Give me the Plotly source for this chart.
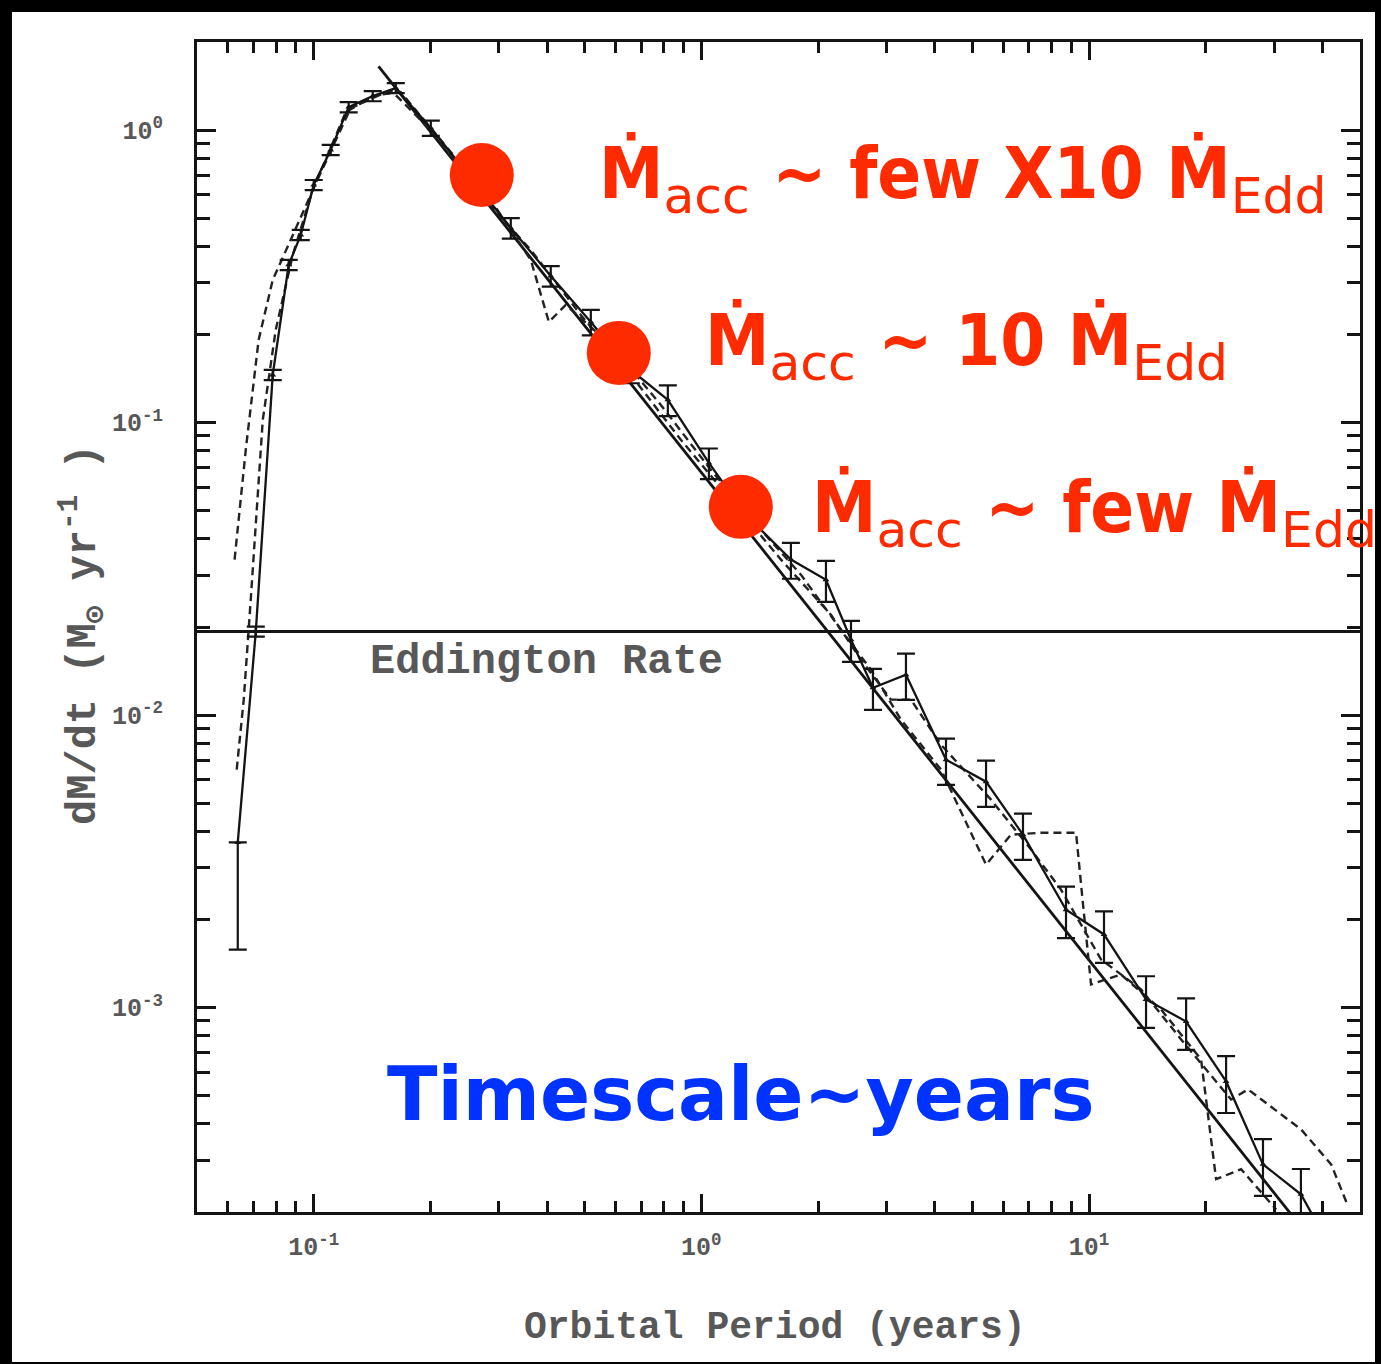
import math
import plotly.graph_objects as go

# ---------------- data ----------------
# straight power-law reference line
line_x = [0.147, 37.0]
line_y = [1.65, 1.64e-4]

# simulation curve with error bars (solid)
sim_x = [0.0637, 0.0709, 0.0784, 0.0862, 0.0926, 0.100, 0.1106, 0.1231, 0.142, 0.1628,
         0.2005, 0.2542, 0.3224, 0.4088, 0.5186, 0.6577, 0.8194, 1.0457, 1.302, 1.702,
         2.096, 2.432, 2.771, 3.371, 4.276, 5.424, 6.755, 8.722, 10.93, 14.03,
         17.8, 22.57, 28.1, 35.2, 41.0]
sim_y = [3.67e-3, 0.0193, 0.1455, 0.346, 0.438, 0.649, 0.855, 1.198, 1.307, 1.392,
         1.016, 0.685, 0.4627, 0.317, 0.2208, 0.1514, 0.1196, 0.0728, 0.0484, 0.034,
         0.029, 0.0181, 0.0124, 0.01374, 7.04e-3, 5.92e-3, 3.9e-3, 2.16e-3, 1.778e-3, 1.066e-3,
         8.96e-4, 5.59e-4, 2.91e-4, 2.3e-4, 1.6e-4]
sim_err_up = [0.0, 0.04, 0.04, 0.04, 0.04, 0.04, 0.04, 0.04, 0.04, 0.04,
              0.06, 0.06, 0.08, 0.08, 0.10, 0.10, 0.12, 0.12, 0.14, 0.14,
              0.16, 0.16, 0.16, 0.18, 0.18, 0.18, 0.18, 0.20, 0.20, 0.20,
              0.20, 0.22, 0.22, 0.22, 0.0]
sim_err_dn = [0.57, 0.04, 0.04, 0.04, 0.04, 0.04, 0.04, 0.04, 0.04, 0.04,
              0.06, 0.06, 0.08, 0.08, 0.10, 0.10, 0.12, 0.12, 0.14, 0.14,
              0.16, 0.16, 0.16, 0.18, 0.18, 0.18, 0.18, 0.20, 0.20, 0.20,
              0.20, 0.22, 0.22, 0.22, 0.0]

# dashed model curve A
dashA_x = [0.0625, 0.0668, 0.0721, 0.0784, 0.0872, 0.0982, 0.1210, 0.1445, 0.1677, 0.2127,
           0.2862, 0.3631, 0.4042, 0.4470, 0.5842, 0.7861, 1.058, 1.424, 1.806, 2.291,
           2.738, 3.272, 4.150, 5.424, 6.291, 7.517, 9.258, 9.650, 10.12, 12.09,
           15.34, 19.45, 21.27, 24.68, 30.39]
dashA_y = [0.0340, 0.0807, 0.1917, 0.3073, 0.4209, 0.5996, 1.152, 1.317, 1.348, 0.9245,
           0.5765, 0.3596, 0.2208, 0.2524, 0.1843, 0.1149, 0.0689, 0.0430, 0.0302, 0.01957,
           0.01429, 9.64e-3, 6.51e-3, 3.08e-3, 3.90e-3, 3.96e-3, 3.96e-3, 2.25e-3, 1.20e-3, 1.297e-3,
           9.85e-4, 6.65e-4, 2.59e-4, 2.80e-4, 2.04e-4]

# dashed model curve B
dashB_x = [0.0633, 0.0660, 0.0688, 0.0739, 0.0798, 0.0883, 0.0994, 0.1246, 0.158, 0.2004,
           0.2698, 0.3631, 0.4887, 0.6577, 0.8853, 1.1917, 1.604, 2.159, 2.580, 3.083,
           3.472, 4.150, 5.586, 7.085, 8.467, 10.74, 13.62, 17.28, 23.25, 25.72,
           35.25, 42.13, 46.6]
dashB_y = [6.51e-3, 0.01129, 0.0248, 0.1021, 0.2073, 0.374, 0.6237, 1.189, 1.370, 1.0,
           0.5996, 0.389, 0.2333, 0.1455, 0.0873, 0.0544, 0.0340, 0.02203, 0.01546, 0.01129,
           0.01129, 7.92e-3, 5.14e-3, 3.47e-3, 2.53e-3, 1.46e-3, 1.153e-3, 7.78e-4, 4.85e-4, 5.25e-4,
           3.83e-4, 2.91e-4, 2.09e-4]

# Eddington rate
edd_rate = 0.0193

# highlighted points
dot_x = [0.2714, 0.6124, 1.264]
dot_y = [0.702, 0.173, 0.0515]

x_range = [0.05, 50.0]
y_range = [2.0e-4, 2.0]

x_tickvals = [0.1, 1, 10]
x_ticktext = ["10<sup>-1</sup>", "10<sup>0</sup>", "10<sup>1</sup>"]
y_tickvals = [1e-3, 1e-2, 1e-1, 1]
y_ticktext = ["10<sup>-3</sup>", "10<sup>-2</sup>", "10<sup>-1</sup>", "10<sup>0</sup>"]

x_minor = [k * 10.0 ** e for e in (-2, -1, 0, 1) for k in range(2, 10)
           if x_range[0] < k * 10.0 ** e < x_range[1]]
y_minor = [k * 10.0 ** e for e in (-4, -3, -2, -1, 0) for k in range(2, 10)
           if y_range[0] < k * 10.0 ** e < y_range[1]]

SUB = "<sub><span style='font-family:DejaVu Sans;font-weight:normal'>{}</span></sub>"
label_red = ["Ṁ" + SUB.format("acc") + " ~ few X10 Ṁ" + SUB.format("Edd"),
             "Ṁ" + SUB.format("acc") + " ~ 10 Ṁ" + SUB.format("Edd"),
             "Ṁ" + SUB.format("acc") + " ~ few Ṁ" + SUB.format("Edd")]

INK = "#141414"
GRAY = "#585858"
RED = "#FF2B00"
BLUE = "#0033FF"
MONO = "Liberation Mono, Courier New, monospace"

fig = go.Figure()

# Eddington line
fig.add_trace(go.Scatter(x=x_range, y=[edd_rate, edd_rate], mode="lines",
                         line=dict(color=INK, width=3), hoverinfo="skip", showlegend=False))

# power-law line
fig.add_trace(go.Scatter(x=line_x, y=line_y, mode="lines",
                         line=dict(color=INK, width=2.8), showlegend=False))

# dashed curves
for dx, dy in ((dashA_x, dashA_y), (dashB_x, dashB_y)):
    fig.add_trace(go.Scatter(x=dx, y=dy, mode="lines",
                             line=dict(color="#222222", width=2.4, dash="8px,5px"),
                             showlegend=False))

# simulation with error bars
fig.add_trace(go.Scatter(
    x=sim_x, y=sim_y, mode="lines+markers",
    line=dict(color=INK, width=2.3),
    marker=dict(symbol="triangle-up", size=6, color=INK),
    error_y=dict(type="data", symmetric=False,
                 array=[v * f for v, f in zip(sim_y, sim_err_up)],
                 arrayminus=[v * f for v, f in zip(sim_y, sim_err_dn)],
                 color=INK, thickness=2.2, width=9),
    showlegend=False))

# red dots
fig.add_trace(go.Scatter(x=dot_x, y=dot_y, mode="markers",
                         marker=dict(color=RED, size=64, line=dict(width=0)),
                         showlegend=False))

axis_common = dict(type="log", showgrid=False, zeroline=False, showline=True,
                   linecolor=INK, linewidth=3, mirror="allticks", ticks="inside",
                   tickwidth=2.5, tickcolor=INK,
                   tickfont=dict(family=MONO, size=25, color=GRAY, weight="bold"))

fig.update_xaxes(**axis_common,
                 range=[math.log10(x_range[0]), math.log10(x_range[1])],
                 tickmode="array", tickvals=x_tickvals, ticktext=x_ticktext,
                 ticklen=18, ticklabelstandoff=10,
                 minor=dict(tickmode="array", tickvals=x_minor, ticks="inside",
                            ticklen=11, tickwidth=2.5, tickcolor=INK))
fig.update_yaxes(**axis_common,
                 range=[math.log10(y_range[0]), math.log10(y_range[1])],
                 tickmode="array", tickvals=y_tickvals, ticktext=y_ticktext,
                 ticklen=19, ticklabelstandoff=26,
                 minor=dict(tickmode="array", tickvals=y_minor, ticks="inside",
                            ticklen=13, tickwidth=2.5, tickcolor=INK))

annotations = [
    dict(text="Eddington Rate", x=0.147, y=0.4701, xref="paper", yref="paper",
         xanchor="left", yanchor="middle", showarrow=False,
         font=dict(family=MONO, size=42, color=GRAY, weight="bold")),
    dict(text="Orbital Period (years)", x=0.497, y=-0.0983, xref="paper", yref="paper",
         xanchor="center", yanchor="middle", showarrow=False,
         font=dict(family=MONO, size=38, color=GRAY, weight="bold")),
    dict(text="dM/dt (M<sub>⊙</sub> yr<sup>-1</sup> )", x=-0.098, y=0.4932,
         xref="paper", yref="paper", xanchor="center", yanchor="middle",
         textangle=-90, showarrow=False,
         font=dict(family=MONO, size=42, color=GRAY, weight="bold")),
    dict(text="Timescale~years", x=0.4669, y=0.101, xref="paper", yref="paper",
         xanchor="center", yanchor="middle", showarrow=False,
         font=dict(family="DejaVu Sans", size=74, color=BLUE, weight="bold")),
]
red_pos = [(0.3439, 0.8838), (0.4351, 0.741), (0.5271, 0.598)]
for txt, (px, py) in zip(label_red, red_pos):
    annotations.append(dict(text=txt, x=px, y=py, xref="paper", yref="paper",
                            xanchor="left", yanchor="middle", showarrow=False,
                            font=dict(family="DejaVu Sans Condensed, DejaVu Sans",
                                      size=72, color=RED, weight="bold")))

# black frame of the slide
frame = [(-0.1694, 1.02564, 1.01806, 1.0359),   # top
         (-0.1694, -0.1299, -0.1591, 1.0359),   # left
         (1.01290, -0.1299, 1.01806, 1.0359),   # right
         (-0.1694, -0.1299, 1.01806, -0.12821)]  # bottom
shapes = [dict(type="rect", xref="paper", yref="paper", x0=a, y0=b, x1=c, y1=d,
               fillcolor="black", line=dict(width=0), layer="above")
          for a, b, c, d in frame]

fig.update_layout(width=1381, height=1364,
                  margin=dict(l=197, r=21, t=42, b=152, pad=0),
                  paper_bgcolor="white", plot_bgcolor="white",
                  annotations=annotations, shapes=shapes, showlegend=False)

fig.write_html("out.html")
